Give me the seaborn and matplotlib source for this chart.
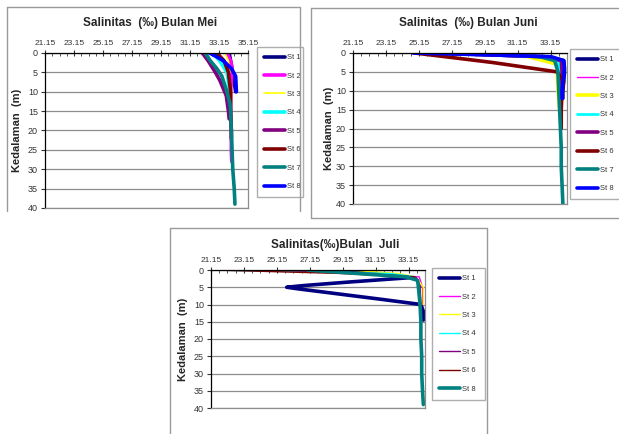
import numpy as np
import pandas as pd
import matplotlib
matplotlib.use("Agg")
import matplotlib.pyplot as plt
from matplotlib.lines import Line2D
import seaborn as sns

# ---- data (salinity in permil vs depth in m) ----
stations = ["St 1", "St 2", "St 3", "St 4", "St 5", "St 6", "St 7", "St 8"]
colors = {"St 1": "#000080", "St 2": "#FF00FF", "St 3": "#FFFF00", "St 4": "#00FFFF",
          "St 5": "#800080", "St 6": "#800000", "St 7": "#008080", "St 8": "#0000FF"}

# Mei
mei_depth = {
    "St 1": [0, 5, 10],
    "St 2": [0, 2, 4, 10, 15, 20, 25, 28],
    "St 3": [0, 2, 5],
    "St 4": [0, 2, 5, 10],
    "St 5": [0, 2, 5, 7, 11, 15, 17],
    "St 6": [0, 2, 5, 10, 15, 20, 22],
    "St 7": [0, 2, 4, 6, 10, 13, 15, 20, 25, 30, 35, 39],
    "St 8": [0, 1, 2, 4, 6, 10],
}
mei_sal = {
    "St 1": [33.85, 34.1, 34.3],
    "St 2": [33.7, 33.95, 34.05, 33.95, 33.95, 34.0, 34.0, 34.03],
    "St 3": [33.55, 33.8, 33.9],
    "St 4": [32.7, 33.2, 33.7, 33.9],
    "St 5": [32.0, 32.4, 32.9, 33.2, 33.65, 33.8, 33.85],
    "St 6": [33.0, 33.5, 33.8, 33.95, 33.95, 34.0, 34.0],
    "St 7": [32.2, 32.55, 33.0, 33.35, 33.7, 33.9, 33.95, 34.0, 34.05, 34.1, 34.2, 34.25],
    "St 8": [32.5, 33.0, 33.45, 34.0, 34.3, 34.35],
}

# Juni
juni_depth = {
    "St 1": [0, 1, 2, 5, 10, 12],
    "St 2": [0, 1, 2, 5, 10],
    "St 3": [0, 1, 3, 5, 10, 15],
    "St 4": [0, 1, 2, 5, 10],
    "St 5": [0, 1, 2, 5, 10],
    "St 6": [0, 2.5, 5, 7.5, 10, 15, 20],
    "St 7": [0, 1, 2, 5, 10, 15, 20, 25, 30, 35, 40],
    "St 8": [0, 0.5, 1, 2, 4, 10, 12],
}
juni_sal = {
    "St 1": [26.0, 33.0, 33.95, 34.0, 33.9, 33.9],
    "St 2": [27.5, 32.5, 33.8, 33.9, 33.9],
    "St 3": [30.0, 31.8, 33.6, 33.55, 33.6, 33.7],
    "St 4": [28.0, 32.5, 33.6, 33.7, 33.7],
    "St 5": [26.5, 32.8, 33.8, 33.85, 33.8],
    "St 6": [24.9, 29.6, 33.55, 33.95, 33.85, 33.8, 33.8],
    "St 7": [28.5, 32.5, 33.4, 33.6, 33.65, 33.7, 33.75, 33.8, 33.8, 33.85, 33.9],
    "St 8": [24.8, 29.5, 33.2, 33.95, 34.0, 33.85, 33.85],
}

# Juli (no St 7; St 8 drawn in teal)
juli_stations = ["St 1", "St 2", "St 3", "St 4", "St 5", "St 6", "St 8"]
juli_depth = {
    "St 1": [0, 1, 2.2, 3.5, 4.5, 5, 5.5, 7, 8.5, 10, 12, 14.5],
    "St 2": [0, 1, 2, 5, 10],
    "St 3": [0, 1, 2, 5, 10],
    "St 4": [0, 1, 2, 5, 10],
    "St 5": [0, 1, 2, 5],
    "St 6": [0, 1, 2, 5, 10],
    "St 8": [0, 1, 2, 3, 5, 10, 15, 20, 25, 30, 35, 39],
}
juli_sal = {
    "St 1": [28.0, 31.0, 33.3, 29.5, 26.8, 25.75, 26.5, 29.0, 31.5, 33.9, 34.05, 34.05],
    "St 2": [26.0, 31.0, 33.8, 34.0, 34.0],
    "St 3": [29.5, 32.5, 33.6, 34.05, 34.05],
    "St 4": [21.2, 32.0, 33.6, 33.8, 33.8],
    "St 5": [24.8, 30.5, 33.6, 33.9],
    "St 6": [21.3, 29.0, 33.5, 33.85, 33.9],
    "St 8": [27.0, 30.0, 33.0, 33.7, 33.75, 33.85, 33.9, 33.9, 33.95, 33.95, 34.0, 34.05],
}
juli_colors = dict(colors, **{"St 8": "#008080"})

widths_mei = {"St 1": 2.6, "St 2": 2.6, "St 3": 1.2, "St 4": 2.6, "St 5": 2.6, "St 6": 2.6, "St 7": 2.6, "St 8": 2.6}
widths_juni = {"St 1": 2.6, "St 2": 1.0, "St 3": 2.6, "St 4": 2.0, "St 5": 2.6, "St 6": 2.6, "St 7": 2.6, "St 8": 2.6}
widths_juli = {"St 1": 2.6, "St 2": 1.0, "St 3": 1.0, "St 4": 1.0, "St 5": 1.0, "St 6": 1.0, "St 8": 2.6}

sns.set_style("white")
plt.rcParams["font.family"] = ["Liberation Sans", "DejaVu Sans"]

W, H = 619, 434
fig = plt.figure(figsize=(W / 100, H / 100), dpi=100)


def box(l, t, r, b):
    return [l / W, 1 - b / H, (r - l) / W, (b - t) / H]


def frame(l, t, r, b, sides="ltrb"):
    kw = dict(color="#9a9a9a", lw=1.0, transform=fig.transFigure)
    if "l" in sides:
        fig.add_artist(Line2D([l / W, l / W], [1 - t / H, 1 - b / H], **kw))
    if "r" in sides:
        fig.add_artist(Line2D([r / W, r / W], [1 - t / H, 1 - b / H], **kw))
    if "t" in sides:
        fig.add_artist(Line2D([l / W, r / W], [1 - t / H, 1 - t / H], **kw))
    if "b" in sides:
        fig.add_artist(Line2D([l / W, r / W], [1 - b / H, 1 - b / H], **kw))


def panel(rect, xmax, st_list, depth, sal, widths, cols, title, title_xy, ylab_x, leg_xy, leg_w, spacing):
    ax = fig.add_axes(box(*rect))
    for st in st_list:
        df = pd.DataFrame({"sal": sal[st], "depth": depth[st]})
        sns.lineplot(data=df, x="sal", y="depth", sort=False, estimator=None,
                     color=cols[st], linewidth=widths[st], ax=ax, legend=False)
    ax.set_xlim(21.15, xmax)
    ax.set_ylim(40, 0)
    ax.xaxis.tick_top()
    ticks = np.arange(21.15, xmax + 0.01, 2)
    ax.set_xticks(ticks)
    ax.set_xticklabels(["%.2f" % t for t in ticks])
    ax.set_xticks(np.arange(21.15, xmax + 0.01, 0.5), minor=True)
    ax.set_yticks(range(0, 41, 5))
    ax.tick_params(axis="x", which="major", direction="inout", length=4, width=0.8,
                   labelsize=6, colors="#333333", pad=2)
    ax.tick_params(axis="x", which="minor", direction="in", length=2, width=0.6, color="#333333")
    ax.tick_params(axis="y", direction="out", length=3, width=0.8, labelsize=6.5,
                   colors="#333333", pad=2, left=True)
    ax.yaxis.grid(True, color="#8c8c8c", lw=0.9)
    ax.xaxis.grid(False)
    ax.set_axisbelow(True)
    for s in ["top", "left"]:
        ax.spines[s].set_color("#000000")
        ax.spines[s].set_linewidth(0.9)
    for s in ["right", "bottom"]:
        ax.spines[s].set_color("#8c8c8c")
        ax.spines[s].set_linewidth(0.9)
    ax.set_xlabel("")
    ax.set_ylabel("")
    l, t, r, b = rect
    fig.text(title_xy[0] / W, 1 - title_xy[1] / H, title, ha="center", va="center",
             fontsize=8.5, fontweight="bold")
    fig.text(ylab_x / W, 1 - ((t + b) / 2) / H, "Kedalaman  (m)", ha="center", va="center",
             rotation=90, fontsize=8, fontweight="bold")
    handles = [Line2D([], [], color=cols[st], lw=widths[st]) for st in st_list]
    leg = ax.legend(handles, st_list, loc="upper left",
                    bbox_to_anchor=(leg_xy[0] / W, 1 - leg_xy[1] / H, leg_w / W, 0.0),
                    bbox_transform=fig.transFigure, fontsize=5.5, frameon=True,
                    fancybox=False, edgecolor="#9a9a9a", borderaxespad=0,
                    handlelength=2.8, handletextpad=0.25, labelspacing=spacing,
                    borderpad=0.9, mode="expand")
    leg.get_frame().set_linewidth(1.0)
    for txt in leg.get_texts():
        txt.set_color("#333333")
    return ax


frame(7, 7, 300, 211, sides="ltr")
frame(311, 8, 640, 218, sides="ltb")
frame(170, 228, 487, 450, sides="ltr")

panel((45, 53, 248, 208), 35.15, stations, mei_depth, mei_sal, widths_mei, colors,
      "Salinitas  (\u2030) Bulan Mei", (150, 23), 17, (257, 47), 46, 1.45)
panel((353, 53, 567, 204), 34.15, stations, juni_depth, juni_sal, widths_juni, colors,
      "Salinitas  (\u2030) Bulan Juni", (468, 23), 329, (570, 49), 55, 1.45)
panel((211, 270, 425, 408), 34.15, juli_stations, juli_depth, juli_sal, widths_juli, juli_colors,
      "Salinitas(\u2030)Bulan  Juli", (335, 245), 183, (432, 268), 53, 1.45)

fig.savefig("out.png", dpi=100)
